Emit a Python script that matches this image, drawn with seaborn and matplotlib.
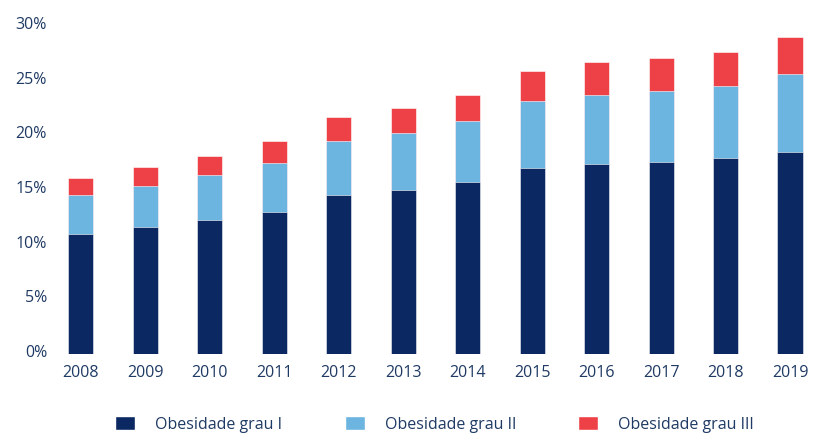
import pandas as pd
import seaborn as sns
from matplotlib import pyplot as plt
from matplotlib.patches import Patch
from matplotlib.ticker import FuncFormatter
from matplotlib.transforms import ScaledTranslation

years = ["2008", "2009", "2010", "2011", "2012", "2013",
         "2014", "2015", "2016", "2017", "2018", "2019"]
grau_1 = [11.0, 11.6, 12.3, 13.0, 14.5, 15.0, 15.7, 17.0, 17.4, 17.6, 17.9, 18.5]
grau_2 = [3.5, 3.8, 4.1, 4.5, 5.0, 5.2, 5.6, 6.1, 6.3, 6.5, 6.6, 7.1]
grau_3 = [1.6, 1.7, 1.7, 2.0, 2.2, 2.3, 2.4, 2.8, 3.0, 3.0, 3.1, 3.4]
series_names = ["Obesidade grau I", "Obesidade grau II", "Obesidade grau III"]
colors = ["#0b2862", "#6cb5e1", "#ee4047"]
text_color = "#1f3a64"

df = pd.DataFrame({"ano": years, "g1": grau_1, "g2": grau_2, "g3": grau_3})
# cumulative tops, drawn back to front so they look stacked
df["top1"] = df["g1"]
df["top2"] = df["g1"] + df["g2"]
df["top3"] = df["g1"] + df["g2"] + df["g3"]

sns.set_style("white")
plt.rcParams["font.family"] = ["Open Sans", "DejaVu Sans"]

fig = plt.figure(figsize=(8.14, 4.34), dpi=100)
ax = fig.add_axes([48.4 / 814, 80 / 434, (812 - 48.4) / 814, 328 / 434])

for col, c in zip(["top3", "top2", "top1"], colors[::-1]):
    sns.barplot(data=df, x="ano", y=col, color=c, width=0.39,
                saturation=1, ax=ax, edgecolor="white", linewidth=0.4)

ax.set_xlim(-0.5, 11.34)
ax.set_ylim(0, 30)
ax.set_yticks(range(0, 31, 5))
ax.yaxis.set_major_formatter(FuncFormatter(lambda v, p: f"{int(v)}%"))
ax.set_xlabel("")
ax.set_ylabel("")
for s in ax.spines.values():
    s.set_visible(False)
ax.tick_params(axis="both", length=0, labelsize=11.5, colors=text_color)
ax.tick_params(axis="y", pad=1)
ax.tick_params(axis="x", pad=8)

# y labels sit a little above their gridline in the original
shift = ScaledTranslation(0, 3 / 100, fig.dpi_scale_trans)
for lbl in ax.get_yticklabels():
    lbl.set_transform(lbl.get_transform() + shift)

handles = [Patch(facecolor=c, label=n) for c, n in zip(colors, series_names)]
fig.legend(handles=handles, loc="center", bbox_to_anchor=(0.534, 0.022), ncol=3,
           frameon=False, fontsize=11.5, labelcolor=text_color,
           handlelength=1.25, handleheight=1.0, handletextpad=1.25,
           columnspacing=3.9)

fig.savefig("out.png", dpi=100)
